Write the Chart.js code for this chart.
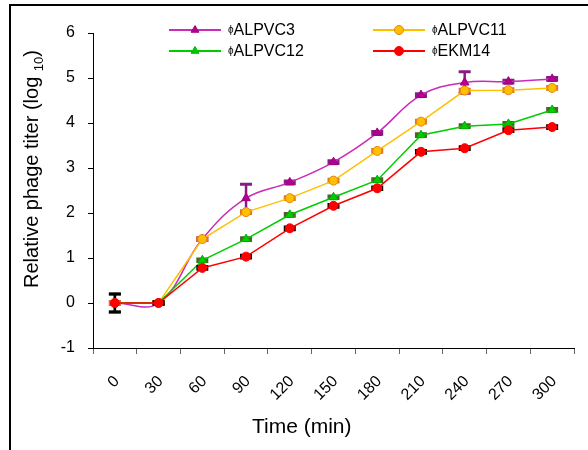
<!DOCTYPE html>
<html>
<head>
<meta charset="utf-8">
<script src="https://cdn.jsdelivr.net/npm/chart.js@4.4.1/dist/chart.umd.min.js"></script>
<style>
  body { margin: 0; background: #fff; }
  #wrap { position: relative; width: 588px; height: 450px; font-family: "Liberation Sans", Arial, sans-serif; color: #000; }
  #frame { position: absolute; left: 9px; top: 4px; right: 0; bottom: 0; border-top: 2px solid #000; border-left: 2px solid #000; }
  #chart { position: absolute; left: 0; top: 0; }
  #ytitle { position: absolute; left: 35px; top: 165px; width: 300px; margin-left: -150px; margin-top: -12px; text-align: center;
            font-size: 20px; line-height: 24px; white-space: nowrap; transform: rotate(-90deg); }
  #ytitle sub { font-size: 13px; }
  #xtitle { position: absolute; left: 252px; top: 414px; font-size: 21px; white-space: nowrap; }
  .leg { position: absolute; height: 20px; font-size: 16px; line-height: 20px; white-space: nowrap; }
  .leg .ln { position: absolute; left: 0; top: 9px; width: 52px; height: 2px; }
  .leg .mk { position: absolute; left: 0; top: 0; width: 52px; height: 20px; }
  .leg .tx { position: absolute; left: 59px; top: 0; }
  .leg .phi { font-size: 10px; vertical-align: 2px; }
</style>
</head>
<body>
<div id="wrap">
  <div id="frame"></div>
  <canvas id="chart" width="588" height="450"></canvas>
  <div id="ytitle">Relative phage titer (log <sub>10</sub>)</div>
  <div id="xtitle">Time (min)</div>
  <div id="legend"></div>
</div>
<script>
const timeLabels = ["0", "30", "60", "90", "120", "150", "180", "210", "240", "270", "300"];

const seriesNames = ["ALPVC3", "ALPVC11", "ALPVC12", "EKM14"];

const alpvc3 = [0, 0, 1.42, 2.33, 2.68, 3.13, 3.78, 4.62, 4.9, 4.92, 4.98];
const alpvc11 = [0, 0, 1.42, 2.02, 2.33, 2.72, 3.38, 4.03, 4.72, 4.73, 4.78];
const alpvc12 = [0, 0, 0.95, 1.42, 1.96, 2.35, 2.73, 3.73, 3.93, 3.98, 4.29];
const ekm14 = [0, 0, 0.78, 1.03, 1.66, 2.16, 2.55, 3.36, 3.44, 3.84, 3.91];

const err3 = [0.03, 0.03, 0.03, 0.31, 0.03, 0.03, 0.03, 0.03, 0.24, 0.03, 0.03];
const err11 = [0.03, 0.03, 0.03, 0.03, 0.03, 0.03, 0.03, 0.03, 0.03, 0.03, 0.03];
const err12 = [0.2, 0.03, 0.03, 0.03, 0.03, 0.03, 0.03, 0.03, 0.03, 0.03, 0.03];
const err14 = [0.2, 0.03, 0.03, 0.03, 0.03, 0.03, 0.03, 0.03, 0.03, 0.03, 0.03];

const yTicks = [-1, 0, 1, 2, 3, 4, 5, 6];

const styles = [
  { line: "#cc2ab8", point: "#b5008f", border: "#a0007e", shape: "triangle", err: "#861c84", tension: 0.4 },
  { line: "#ffc000", point: "#ffc000", border: "#e8801a", shape: "circle", err: "#e3761b", tension: 0 },
  { line: "#00cc00", point: "#00cc00", border: "#00b000", shape: "triangle", err: "#4f6228", tension: 0 },
  { line: "#ff0000", point: "#ff0000", border: "#ff0000", shape: "circle", err: "#000000", tension: 0 },
];

const values = [alpvc3, alpvc11, alpvc12, ekm14];
const errors = [err3, err11, err12, err14];

// error bars drawn under each dataset's markers
const errorBars = {
  id: "errorBars",
  beforeDatasetDraw(chart, args) {
    const i = args.index;
    const ctx = chart.ctx;
    const xs = chart.scales.x;
    const ys = chart.scales.y;
    ctx.save();
    ctx.strokeStyle = styles[i].err;
    values[i].forEach((v, j) => {
      const e = errors[i][j];
      const x = xs.getPixelForValue(j);
      const top = ys.getPixelForValue(v + e);
      const bot = ys.getPixelForValue(v - e);
      ctx.lineWidth = 2.5;
      ctx.beginPath();
      ctx.moveTo(x, top);
      ctx.lineTo(x, bot);
      ctx.stroke();
      ctx.lineWidth = 3;
      ctx.beginPath();
      ctx.moveTo(x - 6, top);
      ctx.lineTo(x + 6, top);
      ctx.moveTo(x - 6, bot);
      ctx.lineTo(x + 6, bot);
      ctx.stroke();
    });
    ctx.restore();
  },
};

const datasets = seriesNames.map((name, i) => ({
  label: "\u03d5" + name,
  data: values[i],
  borderColor: styles[i].line,
  backgroundColor: styles[i].point,
  pointBackgroundColor: styles[i].point,
  pointBorderColor: styles[i].border,
  pointBorderWidth: 1,
  pointStyle: styles[i].shape,
  pointRadius: styles[i].shape === "triangle" ? 5 : 4.5,
  borderWidth: 1.5,
  tension: styles[i].tension,
  order: 3 - i,
}));

const ctx = document.getElementById("chart").getContext("2d");
const myChart = new Chart(ctx, {
  type: "line",
  data: { labels: timeLabels, datasets: datasets },
  options: {
    responsive: false,
    animation: false,
    layout: { padding: { left: 0, right: 14, top: 33, bottom: 0 } },
    plugins: { legend: { display: false }, tooltip: { enabled: false } },
    scales: {
      x: {
        offset: true,
        grid: { drawOnChartArea: false, offset: true, tickLength: 6, color: "#666" },
        border: { color: "#000", width: 1 },
        ticks: {
          color: "#000",
          font: { family: "Liberation Sans", size: 16 },
          minRotation: 45,
          maxRotation: 45,
          labelOffset: 2,
          padding: 18,
        },
        afterFit(scale) { scale.height = 102; },
      },
      y: {
        min: -1,
        max: 6,
        afterBuildTicks(scale) { scale.ticks = yTicks.map((v) => ({ value: v })); },
        grid: { drawOnChartArea: false, tickLength: 5, color: "#000" },
        border: { color: "#000", width: 1 },
        ticks: { color: "#000", font: { family: "Liberation Sans", size: 16 }, padding: 13 },
        afterFit(scale) { scale.width = 93; },
      },
    },
  },
  plugins: [errorBars],
});

// legend in two columns, as in the figure
const legendPos = [[169, 20], [373, 20], [169, 41], [373, 41]];
const legend = document.getElementById("legend");
seriesNames.forEach((name, i) => {
  const item = document.createElement("div");
  item.className = "leg";
  item.style.left = legendPos[i][0] + "px";
  item.style.top = legendPos[i][1] + "px";
  const ln = document.createElement("div");
  ln.className = "ln";
  ln.style.background = styles[i].line;
  item.appendChild(ln);
  const mk = document.createElement("canvas");
  mk.className = "mk";
  mk.width = 52;
  mk.height = 20;
  const mctx = mk.getContext("2d");
  mctx.fillStyle = styles[i].point;
  mctx.strokeStyle = styles[i].border;
  mctx.lineWidth = 1;
  Chart.helpers.drawPoint(mctx, { pointStyle: styles[i].shape, radius: 4.5, borderWidth: 1 }, 26, 10);
  item.appendChild(mk);
  const tx = document.createElement("span");
  tx.className = "tx";
  tx.innerHTML = '<span class="phi">\u03d5</span>' + name;
  item.appendChild(tx);
  legend.appendChild(item);
});
</script>
</body>
</html>
